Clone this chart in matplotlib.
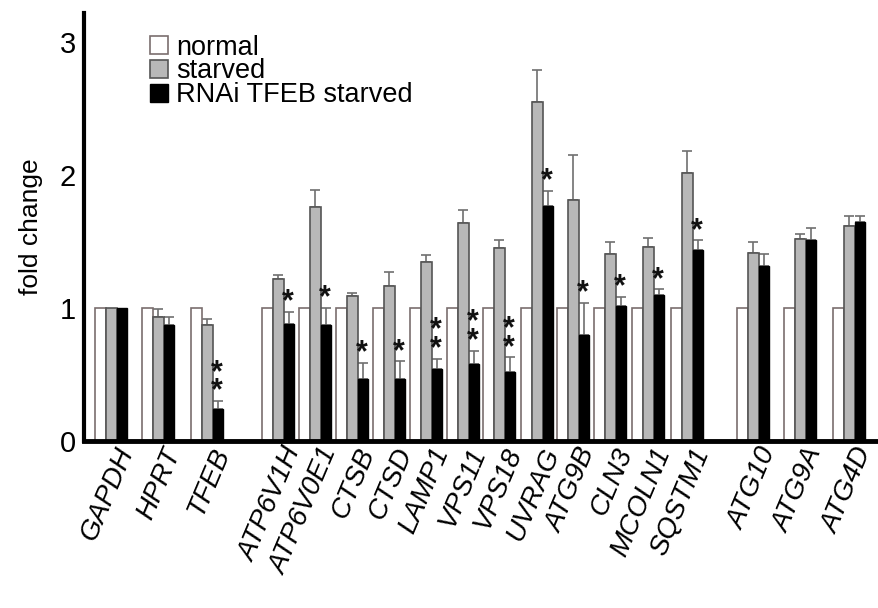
import matplotlib
matplotlib.use("Agg")
import matplotlib.pyplot as plt
import numpy as np

plt.rcParams["font.family"] = ["Liberation Sans", "DejaVu Sans"]

genes = ["GAPDH", "HPRT", "TFEB", "ATP6V1H", "ATP6V0E1", "CTSB", "CTSD",
         "LAMP1", "VPS11", "VPS18", "UVRAG", "ATG9B", "CLN3", "MCOLN1",
         "SQSTM1", "ATG10", "ATG9A", "ATG4D"]
normal = [1.0] * 18
starved = [1.0, 0.935, 0.87, 1.22, 1.76, 1.09, 1.165, 1.345, 1.64, 1.45,
           2.55, 1.81, 1.41, 1.46, 2.02, 1.415, 1.52, 1.62]
starved_err = [0.0, 0.055, 0.05, 0.03, 0.13, 0.025, 0.105, 0.055, 0.10, 0.06,
               0.24, 0.34, 0.09, 0.07, 0.16, 0.085, 0.04, 0.07]
rnai = [1.0, 0.87, 0.24, 0.88, 0.87, 0.47, 0.47, 0.54, 0.58, 0.52,
        1.77, 0.80, 1.015, 1.10, 1.44, 1.32, 1.51, 1.65]
rnai_err = [0.0, 0.065, 0.06, 0.09, 0.13, 0.12, 0.13, 0.08, 0.10, 0.11,
            0.11, 0.24, 0.07, 0.04, 0.07, 0.09, 0.09, 0.04]
n_stars = [0, 0, 2, 1, 1, 1, 1, 2, 2, 2, 1, 1, 1, 1, 1, 0, 0, 0]

# left edge of each group (irregular gaps between gene sets)
group_left = [95, 142, 191, 262, 299, 336, 373, 410, 447, 483, 521, 557,
              594, 632, 671, 737, 784, 833]
bw = 10.8

fig = plt.figure(figsize=(8.79, 6.08), dpi=100)
ax = fig.add_axes([84 / 879, 1 - 441 / 608, 1 - 84 / 879, (441 - 13) / 608])

x0 = np.array(group_left) + bw / 2
x1 = x0 + bw
x2 = x1 + bw
zeros = np.zeros(len(genes))

ax.bar(x0, normal, bw, color="white", edgecolor="#7a6e6e", linewidth=1.2,
       label="normal", zorder=2)
ax.bar(x1, starved, bw, color="#b8b8b8", edgecolor="#555555", linewidth=1.2,
       label="starved", zorder=2)
ax.bar(x2, rnai, bw, color="black", edgecolor="black", linewidth=1.0,
       label="RNAi TFEB starved", zorder=2)

se = np.array(starved_err)
re = np.array(rnai_err)
m1 = se > 0
m2 = re > 0
ax.errorbar(x1[m1], np.array(starved)[m1], yerr=[zeros[m1], se[m1]], fmt="none",
            ecolor="#707070", elinewidth=1.2, capsize=3.5, capthick=1.2, zorder=1)
ax.errorbar(x2[m2], np.array(rnai)[m2], yerr=[zeros[m2], re[m2]], fmt="none",
            ecolor="#707070", elinewidth=1.2, capsize=3.5, capthick=1.2, zorder=1)

# significance stars (stacked in one text)
for i, n in enumerate(n_stars):
    if n == 0:
        continue
    top = rnai[i] + rnai_err[i]
    ax.annotate("\n".join(["*"] * n), (x2[i] - 1, top), xytext=(0, -4),
                textcoords="offset points", ha="center", va="bottom",
                fontsize=22, fontweight="bold", color="#111111",
                linespacing=0.5)

ax.set_xlim(84, 879)
ax.set_ylim(0, 3.22)
ax.set_yticks([0, 1, 2, 3])
ax.set_yticklabels(["0", "1", "2", "3"], fontsize=21)
ax.tick_params(axis="y", length=0, pad=6)
ax.tick_params(axis="x", length=0, pad=2)
ax.set_xticks(x1 + 4)
ax.set_xticklabels(genes, fontsize=20, style="italic", rotation=67,
                   ha="right", rotation_mode="anchor")
ax.set_ylabel("fold change", fontsize=19, labelpad=12)

for s in ["top", "right"]:
    ax.spines[s].set_visible(False)
ax.spines["left"].set_linewidth(3)
ax.spines["bottom"].set_linewidth(3.5)

ax.legend(loc="upper left", bbox_to_anchor=(0.07, 0.975), frameon=False,
          fontsize=19.5, handlelength=0.65, handleheight=0.65, handletextpad=0.3,
          labelspacing=-0.08, borderaxespad=0)

fig.savefig("out.png", dpi=100)
